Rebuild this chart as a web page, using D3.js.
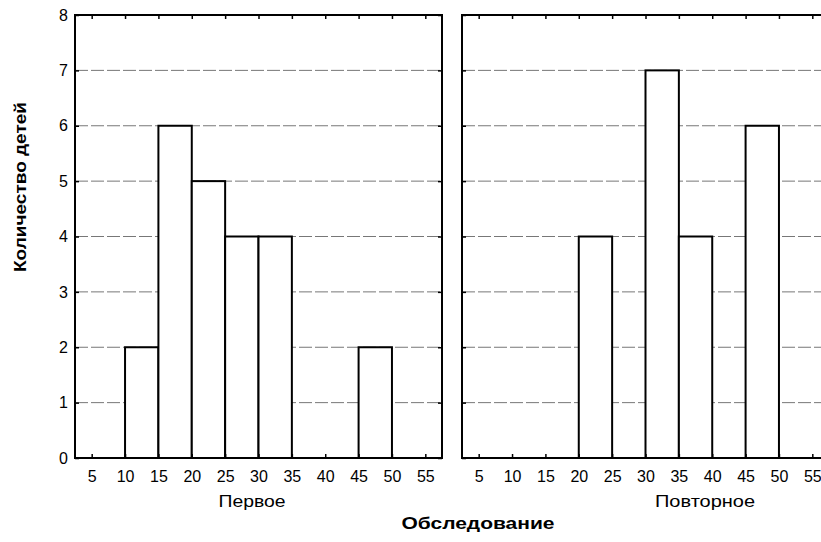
<!DOCTYPE html>
<html>
<head>
<meta charset="utf-8">
<script src="https://cdn.jsdelivr.net/npm/d3@7"></script>
<style>
  body { margin: 0; background: #fff; }
  svg { display: block; }
  text { font-family: "Liberation Sans", Arial, sans-serif; fill: #000; }
</style>
</head>
<body>
<svg id="chart" width="821" height="542"></svg>
<script>
// ---- data ----
const binLefts = [5, 10, 15, 20, 25, 30, 35, 40, 45, 50];
const binWidth = 5;
const firstCounts = [0, 2, 6, 5, 4, 4, 0, 0, 2, 0];   // Первое
const repeatCounts = [0, 0, 0, 4, 0, 7, 4, 0, 6, 0];  // Повторное
const xTicks = [5, 10, 15, 20, 25, 30, 35, 40, 45, 50, 55];
const yTicks = [0, 1, 2, 3, 4, 5, 6, 7, 8];
const panelNames = ["Первое", "Повторное"];
const xTitle = "Обследование";
const yTitle = "Количество детей";

// ---- layout ----
const svg = d3.select("#chart");
const plotTop = 15, plotBottom = 458, panelW = 367;
const panelLeft = [75, 462];
const y = d3.scaleLinear().domain([0, 8]).range([plotBottom, plotTop]);

const panels = [
  { name: panelNames[0], counts: firstCounts, left: panelLeft[0], labelX: 252, labelW: 67, showY: true },
  { name: panelNames[1], counts: repeatCounts, left: panelLeft[1], labelX: 705, labelW: 100, showY: false }
];

panels.forEach(p => {
  const x = d3.scaleLinear().domain([2.5, 57.5]).range([p.left, p.left + panelW]);
  const g = svg.append("g");

  // grid lines
  g.append("g").selectAll("line")
    .data(yTicks.filter(v => v > 0 && v < 8))
    .join("line")
    .attr("x1", p.left).attr("x2", p.left + panelW)
    .attr("y1", d => y(d)).attr("y2", d => y(d))
    .attr("stroke", "#777").attr("stroke-width", 1)
    .attr("stroke-dasharray", "13,3");

  // bars
  const data = binLefts.map((b, i) => ({ x0: b, x1: b + binWidth, c: p.counts[i] })).filter(d => d.c > 0);
  g.append("g").selectAll("rect")
    .data(data)
    .join("rect")
    .attr("x", d => x(d.x0))
    .attr("width", d => x(d.x1) - x(d.x0))
    .attr("y", d => y(d.c))
    .attr("height", d => y(0) - y(d.c))
    .attr("fill", "#fff")
    .attr("stroke", "#000")
    .attr("stroke-width", 2);

  // axes with inward ticks
  const axB = d3.axisBottom(x).tickValues(xTicks).tickSizeInner(-4).tickSizeOuter(0).tickPadding(13);
  const gb = g.append("g").attr("transform", `translate(0,${plotBottom})`).call(axB);
  const axT = d3.axisTop(x).tickValues(xTicks).tickSizeInner(-4).tickSizeOuter(0).tickFormat("");
  const gt = g.append("g").attr("transform", `translate(0,${plotTop})`).call(axT);
  const axL = d3.axisLeft(y).tickValues(yTicks).tickSizeInner(-4).tickSizeOuter(0).tickPadding(7);
  if (!p.showY) axL.tickFormat("");
  const gl = g.append("g").attr("transform", `translate(${p.left},0)`).call(axL);
  const axR = d3.axisRight(y).tickValues(yTicks).tickSizeInner(-4).tickSizeOuter(0).tickFormat("");
  const gr = g.append("g").attr("transform", `translate(${p.left + panelW},0)`).call(axR);

  [gb, gt, gl, gr].forEach(a => {
    a.select(".domain").remove();
    a.selectAll(".tick line").attr("stroke", "#000").attr("stroke-width", 1.5);
    a.selectAll(".tick text").attr("font-size", 16).attr("fill", "#000")
      .style("font-family", '"Liberation Sans", Arial, sans-serif');
  });

  // border
  g.append("rect")
    .attr("x", p.left).attr("y", plotTop)
    .attr("width", panelW).attr("height", plotBottom - plotTop)
    .attr("fill", "none").attr("stroke", "#000").attr("stroke-width", 2);

  // panel label
  g.append("text")
    .attr("x", p.labelX).attr("y", 507)
    .attr("text-anchor", "middle")
    .attr("font-size", 16)
    .attr("textLength", p.labelW)
    .attr("lengthAdjust", "spacingAndGlyphs")
    .text(p.name);
});

// axis titles
svg.append("text")
  .attr("x", 478).attr("y", 529)
  .attr("text-anchor", "middle")
  .attr("font-size", 16).attr("font-weight", "bold")
  .attr("textLength", 153).attr("lengthAdjust", "spacingAndGlyphs")
  .text(xTitle);

svg.append("text")
  .attr("transform", "translate(26,187) rotate(-90)")
  .attr("text-anchor", "middle")
  .attr("font-size", 16).attr("font-weight", "bold")
  .attr("textLength", 170).attr("lengthAdjust", "spacingAndGlyphs")
  .text(yTitle);
</script>
</body>
</html>
